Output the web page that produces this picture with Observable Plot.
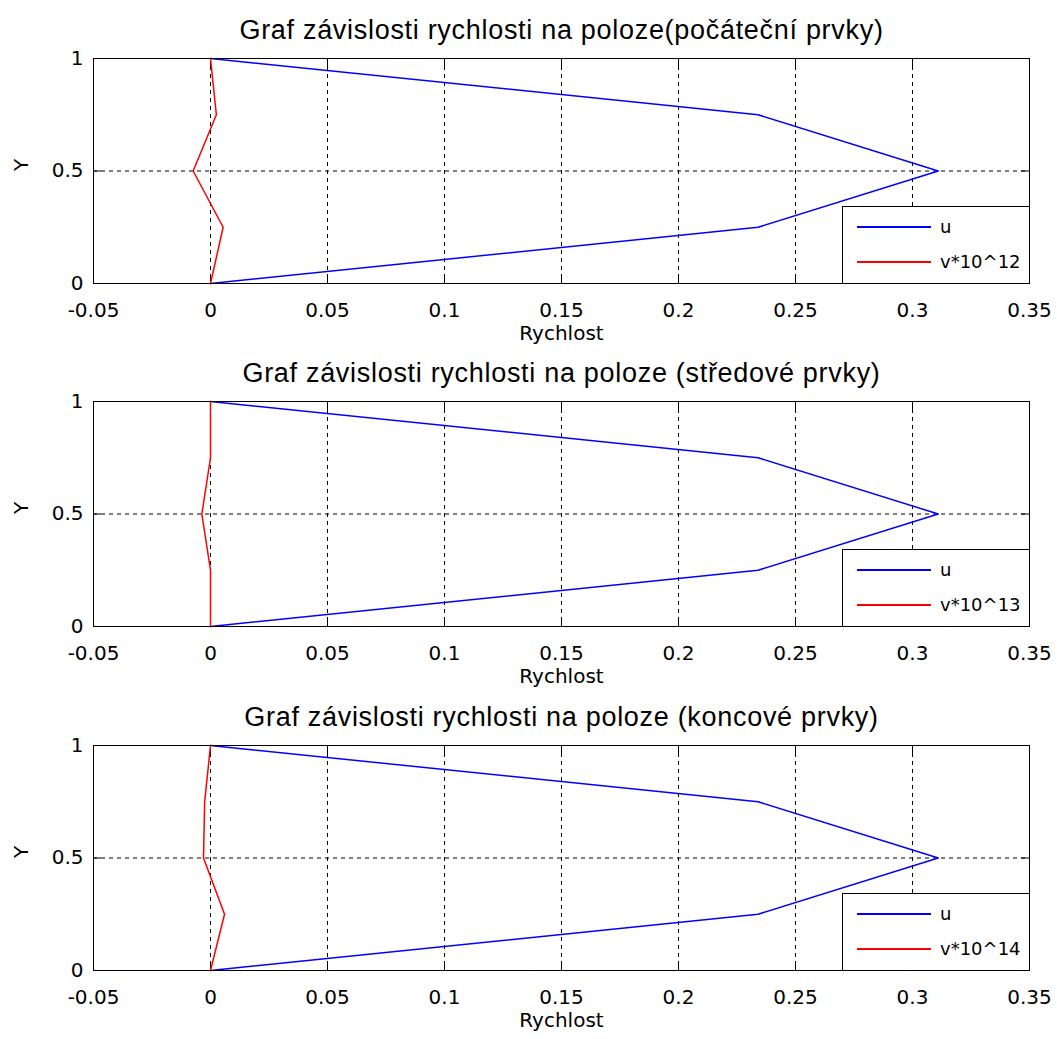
<!DOCTYPE html>
<html>
<head>
<meta charset="utf-8">
<script src="https://cdn.jsdelivr.net/npm/d3@7"></script>
<script src="https://cdn.jsdelivr.net/npm/@observablehq/plot@0.6"></script>
<style>
  body { margin: 0; background: #fff; }
  #wrap { position: relative; width: 1057px; height: 1039px; overflow: hidden; }
  .panel { position: absolute; left: 0; }
  .legend { position: absolute; left: 842px; width: 186px; height: 76px; border: 1px solid #000; background: #fff;
            font-family: "DejaVu Sans", sans-serif; font-size: 18px; color: #000; }
  .legend .row { position: absolute; left: 0; height: 24px; width: 100%; }
  .legend .sw { position: absolute; left: 14px; width: 74px; top: 11px; height: 0; border-top: 2px solid; }
  .legend .lab { position: absolute; left: 97px; top: 0; line-height: 24px; }
</style>
</head>
<body>
<div id="wrap"></div>
<script>
// ---- data ----
const xTicks = [-0.05, 0, 0.05, 0.1, 0.15, 0.2, 0.25, 0.3, 0.35];
const yTicks = [0, 0.5, 1];
const yNodes = [0, 0.25, 0.5, 0.75, 1];
const uValues = [0, 0.234, 0.311, 0.234, 0];
const v1Values = [0, 0.0054, -0.0074, 0.0025, 0];
const v2Values = [0, 0, -0.0037, 0, 0];
const v3Values = [0, 0.006, -0.003, -0.0025, 0];
const titles = [
  "Graf závislosti rychlosti na poloze(počáteční prvky)",
  "Graf závislosti rychlosti na poloze (středové prvky)",
  "Graf závislosti rychlosti na poloze (koncové prvky)"
];
const uLabel = "u";
const vLabels = ["v*10^12", "v*10^13", "v*10^14"];
const xLabel = "Rychlost";
const yLabel = "Y";

const fmt = d => d === 0 ? "0" : String(Math.round(d * 100) / 100);

function panel(title, vVals) {
  const u = yNodes.map((y, i) => ({x: uValues[i], y}));
  const v = yNodes.map((y, i) => ({x: vVals[i], y}));
  return Plot.plot({
    width: 1057, height: 343,
    marginLeft: 93, marginRight: 28, marginTop: 58, marginBottom: 60,
    style: {fontFamily: "DejaVu Sans", fontSize: "20px", color: "#000", background: "transparent", overflow: "visible"},
    x: {domain: [-0.05, 0.35]},
    y: {domain: [0, 1]},
    marks: [
      Plot.gridX({ticks: xTicks.slice(1, -1), stroke: "#000", strokeOpacity: 1, strokeDasharray: "4,4"}),
      Plot.gridY({ticks: [0.5], stroke: "#000", strokeOpacity: 1, strokeDasharray: "4,4"}),
      Plot.tickX(xTicks, {insetTop: 217, stroke: "#000"}),
      Plot.tickX(xTicks, {insetBottom: 217, stroke: "#000"}),
      Plot.tickY(yTicks, {insetRight: 928, stroke: "#000"}),
      Plot.tickY(yTicks, {insetLeft: 928, stroke: "#000"}),
      Plot.line(u, {x: "x", y: "y", stroke: "#0000ff", strokeWidth: 1.5}),
      Plot.line(v, {x: "x", y: "y", stroke: "#ff0000", strokeWidth: 1.5}),
      Plot.frame({stroke: "#000"}),
      Plot.axisX({ticks: xTicks, tickSize: 0, tickPadding: 19, tickFormat: fmt, fontSize: 20, label: null}),
      Plot.axisY({ticks: yTicks, tickSize: 0, tickPadding: 10, tickFormat: fmt, fontSize: 20, label: null}),
      Plot.text([title], {text: d => d, frameAnchor: "top", lineAnchor: "middle", dy: -28, fontSize: 27, fontFamily: "Liberation Sans"}),
      Plot.text([xLabel], {text: d => d, frameAnchor: "bottom", lineAnchor: "middle", dy: 50, fontSize: 20}),
      Plot.text([yLabel], {text: d => d, frameAnchor: "left", dx: -72, rotate: -90, fontSize: 20})
    ]
  });
}

const wrap = document.getElementById("wrap");
const tops = [0, 343, 687];
const vs = [v1Values, v2Values, v3Values];
tops.forEach((t, i) => {
  const p = panel(titles[i], vs[i]);
  p.classList.add("panel");
  p.style.top = t + "px";
  d3.select(p).selectAll("text")
    .filter(function() { return this.textContent.startsWith("Graf"); })
    .style("letter-spacing", "0.7px");
  wrap.appendChild(p);
  const lg = document.createElement("div");
  lg.className = "legend";
  lg.style.top = (t + 206) + "px";
  lg.innerHTML =
    `<div class="row" style="top:8px"><div class="sw" style="border-color:#0000ff"></div><div class="lab">${uLabel}</div></div>` +
    `<div class="row" style="top:43px"><div class="sw" style="border-color:#ff0000"></div><div class="lab">${vLabels[i]}</div></div>`;
  wrap.appendChild(lg);
});
</script>
</body>
</html>
